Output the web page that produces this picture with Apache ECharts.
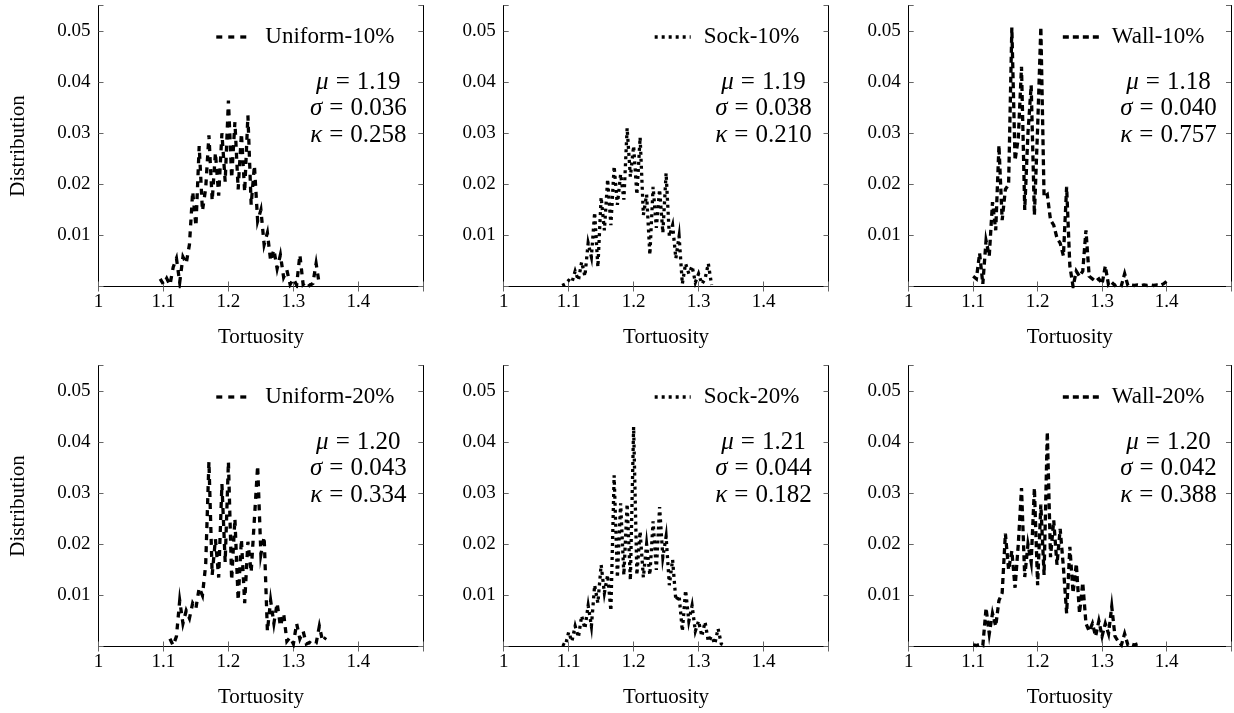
<!DOCTYPE html>
<html>
<head>
<meta charset="utf-8">
<script src="https://cdn.jsdelivr.net/npm/echarts@6/dist/echarts.min.js"></script>
<style>
  html, body { margin: 0; padding: 0; background: #fff; }
  #chart { width: 1234px; height: 713px; }
</style>
</head>
<body>
<div id="chart"></div>
<script>
// Tortuosity histograms: bin width shared by all six distributions
const binWidth = 0.005;

// Uniform-10%
const uniform10Start = 1.095;
const uniform10 = [0.0015, 0.0004, 0.0016, 0.0003, 0.0038, 0.0055, 0.0008, 0.0058, 0.0045, 0.0082,
  0.0186, 0.0118, 0.0275, 0.0148, 0.0192, 0.0296, 0.0168, 0.0262, 0.0178, 0.0300,
  0.0205, 0.0364, 0.0212, 0.0322, 0.0190, 0.0300, 0.0185, 0.0335, 0.0160, 0.0237,
  0.0128, 0.0150, 0.0082, 0.0105, 0.0050, 0.0072, 0.0035, 0.0062, 0.0018, 0.0032,
  0.0004, 0.0015, 0.0003, 0.0062, 0.0004, 0.0010, 0.0002, 0.0006, 0.0045, 0.0003];
const uniform10Stats = ['1.19', '0.036', '0.258'];

// Sock-10%
const sock10Start = 1.090;
const sock10 = [0.0002, 0.0005, 0.0012, 0.0008, 0.0030, 0.0012, 0.0048, 0.0020, 0.0085, 0.0058,
  0.0145, 0.0038, 0.0175, 0.0110, 0.0210, 0.0120, 0.0235, 0.0160, 0.0220, 0.0170,
  0.0310, 0.0215, 0.0275, 0.0180, 0.0292, 0.0140, 0.0180, 0.0062, 0.0195, 0.0115,
  0.0190, 0.0105, 0.0222, 0.0098, 0.0120, 0.0055, 0.0098, 0.0005, 0.0045, 0.0025,
  0.0040, 0.0008, 0.0025, 0.0005, 0.0015, 0.0045, 0.0003];
const sock10Stats = ['1.19', '0.038', '0.210'];

// Wall-10%
const wall10Start = 1.100;
const wall10 = [0.0020, 0.0015, 0.0065, 0.0005, 0.0090, 0.0060, 0.0165, 0.0110, 0.0276, 0.0130,
  0.0190, 0.0200, 0.0507, 0.0247, 0.0290, 0.0430, 0.0150, 0.0300, 0.0394, 0.0140,
  0.0310, 0.0508, 0.0175, 0.0180, 0.0130, 0.0120, 0.0095, 0.0085, 0.0060, 0.0195,
  0.0040, 0.0000, 0.0030, 0.0020, 0.0030, 0.0110, 0.0020, 0.0015, 0.0010, 0.0015,
  0.0005, 0.0040, 0.0003, 0.0008, 0.0002, 0.0005, 0.0002, 0.0025, 0.0002, 0.0003,
  0.0002, 0.0003, 0.0002, 0.0003, 0.0002, 0.0003, 0.0002, 0.0003, 0.0002, 0.0005, 0.0010];
const wall10Stats = ['1.18', '0.040', '0.757'];

// Uniform-20%
const uniform20Start = 1.110;
const uniform20 = [0.0015, 0.0002, 0.0020, 0.0090, 0.0045, 0.0070, 0.0055, 0.0085, 0.0075, 0.0115,
  0.0100, 0.0160, 0.0362, 0.0140, 0.0210, 0.0135, 0.0318, 0.0165, 0.0362, 0.0130,
  0.0250, 0.0090, 0.0210, 0.0085, 0.0205, 0.0145, 0.0250, 0.0354, 0.0180, 0.0215,
  0.0030, 0.0090, 0.0045, 0.0085, 0.0040, 0.0065, 0.0010, 0.0018, 0.0005, 0.0045,
  0.0015, 0.0030, 0.0005, 0.0008, 0.0003, 0.0006, 0.0040, 0.0010, 0.0018];
const uniform20Stats = ['1.20', '0.043', '0.334'];

// Sock-20%
const sock20Start = 1.090;
const sock20 = [0.0005, 0.0002, 0.0028, 0.0010, 0.0040, 0.0018, 0.0060, 0.0035, 0.0080, 0.0040,
  0.0120, 0.0085, 0.0160, 0.0105, 0.0140, 0.0070, 0.0335, 0.0135, 0.0280, 0.0140,
  0.0279, 0.0130, 0.0430, 0.0140, 0.0225, 0.0135, 0.0200, 0.0140, 0.0245, 0.0150,
  0.0273, 0.0175, 0.0215, 0.0120, 0.0170, 0.0090, 0.0100, 0.0030, 0.0110, 0.0050,
  0.0080, 0.0030, 0.0050, 0.0020, 0.0048, 0.0010, 0.0020, 0.0005, 0.0035, 0.0005, 0.0002];
const sock20Stats = ['1.21', '0.044', '0.182'];

// Wall-20%
const wall20Start = 1.100;
const wall20 = [0.0003, 0.0002, 0.0004, 0.0002, 0.0075, 0.0025, 0.0065, 0.0040, 0.0090, 0.0105,
  0.0221, 0.0150, 0.0187, 0.0115, 0.0200, 0.0310, 0.0136, 0.0200, 0.0165, 0.0310,
  0.0120, 0.0278, 0.0140, 0.0420, 0.0175, 0.0247, 0.0160, 0.0230, 0.0155, 0.0065,
  0.0195, 0.0105, 0.0162, 0.0065, 0.0125, 0.0045, 0.0030, 0.0045, 0.0020, 0.0050,
  0.0020, 0.0045, 0.0025, 0.0078, 0.0020, 0.0010, 0.0003, 0.0025, 0.0003, 0.0005,
  0.0003, 0.0005];
const wall20Stats = ['1.20', '0.042', '0.388'];

// Axis ranges and tick steps
const xMin = 1, xMax = 1.5, xStep = 0.1;
const yMin = 0, yMax = 0.055, yStep = 0.01;

const SERIF = "'Liberation Serif', 'DejaVu Serif', serif";
const DASHED = [6, 6];
const DENSE_DASHED = [6, 4];
const DOTTED = [3, 4];

const panels = [
  { name: 'Uniform-10%', start: uniform10Start, values: uniform10, stats: uniform10Stats, dash: DASHED,       left: 98.5,  top: 5.5 },
  { name: 'Sock-10%',    start: sock10Start,    values: sock10,    stats: sock10Stats,    dash: DOTTED,       left: 503.7, top: 5.5 },
  { name: 'Wall-10%',    start: wall10Start,    values: wall10,    stats: wall10Stats,    dash: DENSE_DASHED, left: 908.7, top: 5.5 },
  { name: 'Uniform-20%', start: uniform20Start, values: uniform20, stats: uniform20Stats, dash: DASHED,       left: 98.5,  top: 365.5 },
  { name: 'Sock-20%',    start: sock20Start,    values: sock20,    stats: sock20Stats,    dash: DOTTED,       left: 503.7, top: 365.5 },
  { name: 'Wall-20%',    start: wall20Start,    values: wall20,    stats: wall20Stats,    dash: DENSE_DASHED, left: 908.7, top: 365.5 }
];
const PW = 324.8, PH = 281;
const LEGEND_FONT = 23, STATS_FONT = 25;

// text width helper for laying out the in-plot legend entries
const measureCtx = document.createElement('canvas').getContext('2d');
function textWidth(str, size) {
  measureCtx.font = size + 'px ' + SERIF;
  return measureCtx.measureText(str).width;
}

const grid = [], xAxis = [], yAxis = [], series = [], graphic = [];

const tickStyle = { show: true, inside: true, length: 5, lineStyle: { color: '#666', width: 1 } };
const lineStyleAxis = { show: true, lineStyle: { color: '#000', width: 1 } };

panels.forEach((p, i) => {
  grid.push({ left: p.left, top: p.top, width: PW, height: PH, containLabel: false });
  const firstCol = (i % 3) === 0;

  xAxis.push({
    gridIndex: i, type: 'value', position: 'bottom', min: xMin, max: xMax, interval: xStep,
    axisLine: lineStyleAxis, axisTick: tickStyle, splitLine: { show: false },
    axisLabel: {
      margin: 6, color: '#000', fontFamily: SERIF, fontSize: 19,
      formatter: v => (v > 1.45 ? '' : String(Math.round(v * 10) / 10))
    },
    name: 'Tortuosity', nameLocation: 'middle', nameGap: 40,
    nameTextStyle: { color: '#000', fontFamily: SERIF, fontSize: 21 }
  });
  xAxis.push({
    gridIndex: i, type: 'value', position: 'top', min: xMin, max: xMax, interval: xStep,
    axisLine: lineStyleAxis, axisTick: tickStyle, axisLabel: { show: false }, splitLine: { show: false }
  });
  yAxis.push({
    gridIndex: i, type: 'value', position: 'left', min: yMin, max: yMax, interval: yStep,
    axisLine: lineStyleAxis, axisTick: tickStyle, splitLine: { show: false },
    axisLabel: {
      margin: 8, color: '#000', fontFamily: SERIF, fontSize: 19,
      formatter: v => (v === 0 || v > 0.0505 ? '' : v.toFixed(2))
    },
    name: firstCol ? 'Distribution' : '', nameLocation: 'middle', nameRotate: 90, nameGap: 70,
    nameTextStyle: { color: '#000', fontFamily: SERIF, fontSize: 21 }
  });
  yAxis.push({
    gridIndex: i, type: 'value', position: 'right', min: yMin, max: yMax, interval: yStep,
    axisLine: lineStyleAxis, axisTick: tickStyle, axisLabel: { show: false }, splitLine: { show: false }
  });

  const data = p.values.map((d, k) => [+(p.start + k * binWidth).toFixed(3), d]);
  series.push({
    name: p.name, type: 'line', xAxisIndex: 2 * i, yAxisIndex: 2 * i,
    data, symbol: 'none', showSymbol: false, smooth: false, clip: true,
    lineStyle: { color: '#000', width: 3.3, type: p.dash, cap: 'butt', join: 'miter', miterLimit: 10 },
    emphasis: { disabled: true }
  });

  // legend entry: line sample followed by the series name, top-right of the plot
  const right = p.left + PW;
  const textRight = right - 29;
  const textLeft = textRight - textWidth(p.name, LEGEND_FONT);
  const ly = p.top + 31.5;
  graphic.push({
    type: 'line', silent: true,
    shape: { x1: textLeft - 49, y1: ly, x2: textLeft - 13, y2: ly },
    style: { stroke: '#000', lineWidth: 3.3, lineDash: p.dash, lineCap: 'butt' }
  });
  graphic.push({
    type: 'text', silent: true, x: textLeft, y: ly,
    style: { text: p.name, fontFamily: SERIF, fontSize: LEGEND_FONT, fill: '#000', align: 'left', verticalAlign: 'middle' }
  });

  // summary statistics block, each row centred
  const syms = ['μ', 'σ', 'κ'];
  const rows = [76.5, 103, 129.5];
  const cx = right - 65;
  p.stats.forEach((s, k) => {
    graphic.push({
      type: 'text', x: cx, y: p.top + rows[k], silent: true,
      style: {
        text: '{g|' + syms[k] + '}{e|=}{n|' + s + '}',
        align: 'center', verticalAlign: 'middle',
        rich: {
          g: { fontFamily: SERIF, fontSize: STATS_FONT, fontStyle: 'italic', fill: '#000' },
          e: { fontFamily: SERIF, fontSize: STATS_FONT, fill: '#000', padding: [0, 7, 0, 7] },
          n: { fontFamily: SERIF, fontSize: STATS_FONT, fill: '#000' }
        }
      }
    });
  });
});

const chart = echarts.init(document.getElementById('chart'), null, { renderer: 'canvas' });
chart.setOption({
  animation: false,
  backgroundColor: '#fff',
  grid, xAxis, yAxis, series, graphic
});
</script>
</body>
</html>
